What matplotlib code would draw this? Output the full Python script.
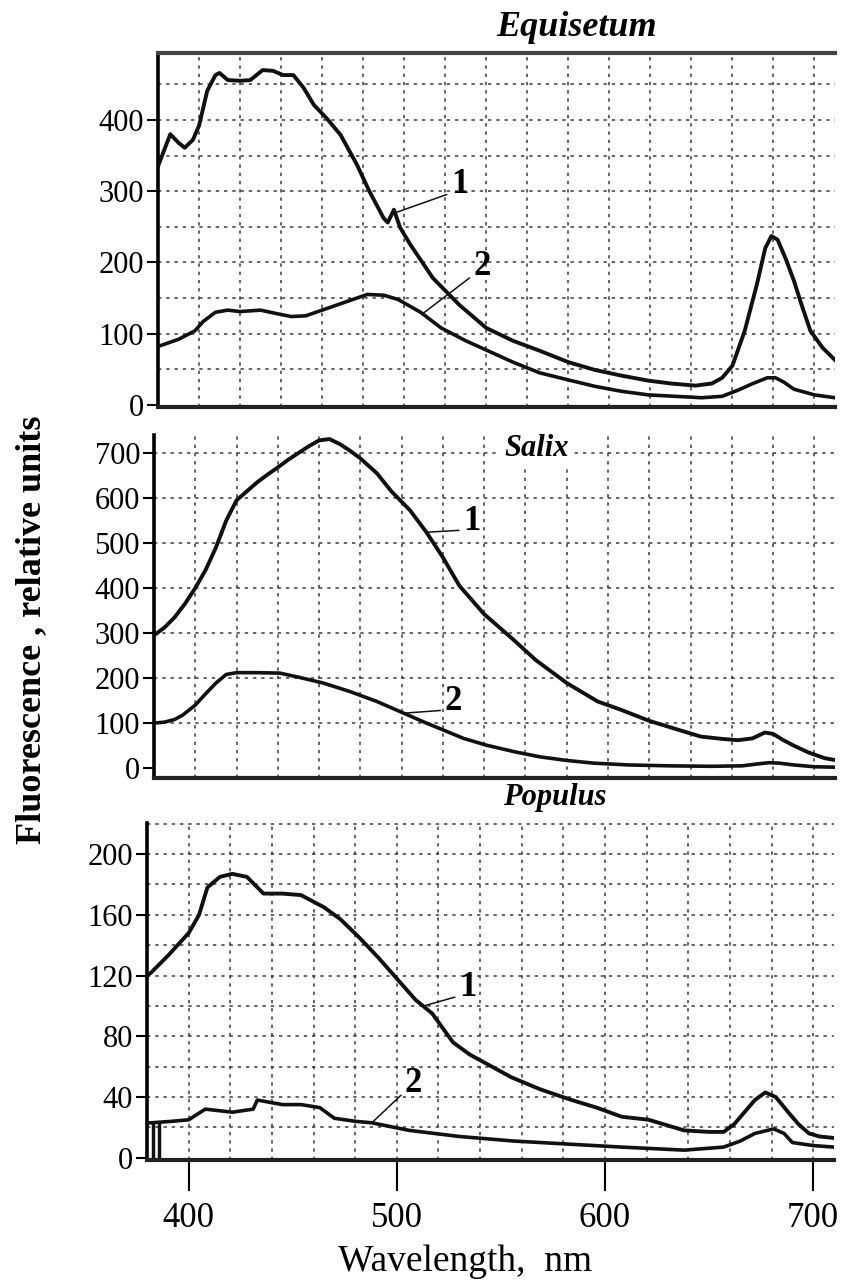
import numpy as np
import matplotlib
matplotlib.use("Agg")
import matplotlib.pyplot as plt

plt.rcParams['font.family'] = ['Liberation Serif', 'DejaVu Serif']

# --- data (wavelength nm, relative units) ---
equi_nm1 = [380, 382, 386, 390, 393, 397, 400, 404, 408, 410, 414, 420, 425, 431, 436, 441,
            446, 451, 456, 462, 469, 477, 483, 490, 492, 495, 498, 503, 514, 527, 540, 553,
            566, 580, 593, 606, 619, 630, 642, 650, 655, 660, 666, 672, 676, 679, 682, 686,
            690, 694, 698, 704, 710]
equi_val1 = [335, 350, 380, 368, 361, 372, 392, 441, 463, 466, 456, 455, 456, 470, 469, 463,
             463, 445, 421, 403, 379, 337, 300, 262, 256, 274, 249, 225, 178, 140, 108, 90,
             76, 60, 49, 41, 34, 30, 27, 30, 38, 55, 104, 170, 220, 237, 232, 205,
             174, 138, 104, 80, 63]
equi_nm2 = [380, 385, 390, 398, 402, 408, 414, 420, 430, 438, 445, 452, 461, 470, 482, 490,
            497, 508, 518, 530, 540, 553, 566, 580, 593, 606, 619, 632, 645, 655, 663, 670,
            677, 681, 685, 690, 700, 710]
equi_val2 = [82, 87, 92, 104, 117, 130, 133, 131, 133, 128, 124, 125, 134, 143, 155, 154,
             148, 130, 108, 90, 77, 60, 45, 35, 26, 19, 14, 12, 10, 12, 21, 30,
             38, 38, 32, 22, 14, 10]

salix_nm1 = [380, 385, 390, 395, 400, 405, 410, 415, 420, 425, 430, 435, 440, 445, 450, 455,
             460, 465, 470, 475, 480, 488, 495, 504, 512, 520, 528, 540, 554, 565, 580, 595,
             606, 620, 632, 645, 655, 663, 670, 676, 680, 685, 690, 697, 705, 710]
salix_val1 = [295, 312, 335, 365, 400, 440, 490, 550, 595, 615, 635, 652, 668, 685, 700, 715,
              728, 731, 720, 705, 688, 655, 615, 573, 524, 468, 405, 342, 286, 240, 189, 148,
              130, 105, 88, 70, 65, 62, 66, 79, 76, 62, 50, 35, 22, 18]
salix_nm2 = [380, 385, 390, 394, 400, 405, 410, 415, 420, 430, 441, 450, 462, 475, 488, 501,
             512, 520, 530, 541, 555, 567, 580, 593, 610, 630, 650, 665, 672, 678, 683, 690,
             700, 710]
salix_val2 = [100, 102, 108, 118, 140, 165, 189, 208, 212, 212, 211, 202, 189, 170, 148, 122,
              100, 85, 66, 51, 36, 25, 17, 11, 7, 5, 4, 5, 9, 12, 11, 7,
              3, 2]

pop_nm1 = [380, 382, 390, 400, 405, 409, 415, 421, 428, 436, 445, 454, 465, 473, 482, 491,
           500, 509, 517, 527, 535, 543, 555, 569, 584, 596, 608, 621, 638, 650, 657, 662,
           667, 672, 677, 682, 688, 693, 698, 703, 710]
pop_val1 = [120, 122, 133, 148, 160, 178, 185, 187, 185, 174, 174, 173, 165, 157, 145, 132,
            118, 104, 95, 76, 68, 62, 53, 45, 38, 33, 27, 25, 18, 17, 17, 22,
            30, 38, 43, 40, 30, 22, 16, 14, 13]
pop_nm2 = [380, 382, 392, 400, 408, 421, 431, 433, 445, 454, 463, 470, 480, 488, 506, 530,
           556, 582, 608, 638, 657, 665, 672, 681, 686, 690, 700, 710]
pop_val2 = [23, 23, 24, 25, 32, 30, 32, 38, 35, 35, 33, 26, 24, 23, 18, 14,
            11, 9, 7, 5, 7, 11, 16, 19, 16, 10, 8, 7]
pop_bars = [383, 386]

panels = [
    # name, curves, ylim, yticks, ygrid step, rect(px): left, right, top, bottom
    ("Equisetum", (equi_nm1, equi_val1, equi_nm2, equi_val2), (-3, 494), np.arange(0, 401, 100), 50,
     (158, 835, 53, 407)),
    ("Salix", (salix_nm1, salix_val1, salix_nm2, salix_val2), (-22, 740), np.arange(0, 701, 100), 100,
     (154, 835, 435, 778)),
    ("Populus", (pop_nm1, pop_val1, pop_nm2, pop_val2), (-1.5, 220.5), np.arange(0, 201, 40), 20,
     (147, 834, 823, 1160)),
]

# label '1'/'2' positions (text) and curve points they point at
notes = [
    [((494, 268), (527, 309)), ((509, 128), (538, 194))],
    [((512, 524), (534, 547)), ((501, 122), (525, 147))],
    [((513, 100), (534, 112)), ((488, 23), (508, 49))],
]

W, H = 846, 1281
fig = plt.figure(figsize=(W / 100, H / 100), dpi=100)
grid_kw = dict(color='#3a3a3a', lw=1.1, ls=(0, (2.2, 3.2)), zorder=0)

axes = []
for i, (name, (x1, y1, x2, y2), ylim, yticks, gstep, (l, r, t, b)) in enumerate(panels):
    ax = fig.add_axes([l / W, 1 - b / H, (r - l) / W, (b - t) / H])
    axes.append(ax)
    ax.set_xlim(380, 710)
    ax.set_ylim(*ylim)
    for gx in range(400, 701, 20):
        ax.axvline(gx, **grid_kw)
    for gy in np.arange(0, ylim[1] + 0.01, gstep)[1:]:
        ax.axhline(gy, **grid_kw)
    ax.plot(x1, y1, color='#111111', lw=2.8, solid_joinstyle='round', zorder=3)
    ax.plot(x2, y2, color='#111111', lw=2.6, solid_joinstyle='round', zorder=3)

    ax.set_yticks(yticks)
    ax.set_yticklabels([str(v) for v in yticks])
    ax.tick_params(axis='y', direction='out', length=8, width=1.5, labelsize=22, pad=2)
    for s in ['right', 'top']:
        ax.spines[s].set_visible(False)
    ax.spines['left'].set_linewidth(2.6)
    ax.spines['bottom'].set_linewidth(3.0)
    ax.spines['bottom'].set_color('#222222')

    for (xy, xt), lab in zip(notes[i], ['1', '2']):
        ax.annotate(lab, xy=xy, xytext=xt, ha='center', va='center', fontsize=25,
                    fontweight='bold', zorder=5,
                    arrowprops=dict(arrowstyle='-', lw=1.1, color='#111111',
                                    shrinkA=1, shrinkB=0, relpos=(0.0, 0.25)))

    if i < 2:
        ax.set_xticks([])
    else:
        ax.set_xticks([400, 500, 600, 700])
        ax.tick_params(axis='x', direction='out', length=22, width=1.5, labelsize=25, pad=8)
        ax.vlines(pop_bars, 0, pop_val2[0], color='#111111', lw=2.5, zorder=3)

axes[0].spines['top'].set_visible(True)
axes[0].spines['top'].set_linewidth(3.0)
axes[0].spines['top'].set_color('#444444')

fig.text(577 / W, 1 - 28 / H, "Equisetum", ha='center', va='center', fontsize=26,
         fontweight='bold', style='italic')
fig.text(537 / W, 1 - 449 / H, "Salix", ha='center', va='center', fontsize=22,
         fontweight='bold', style='italic', zorder=10,
         bbox=dict(facecolor='white', edgecolor='none', pad=3))
fig.text(555 / W, 1 - 797 / H, "Populus", ha='center', va='center', fontsize=22,
         fontweight='bold', style='italic')

fig.text(32 / W, 1 - 630 / H, "Fluorescence , relative units", rotation=90, ha='center',
         va='center', fontsize=26, fontweight='bold')
fig.text(465 / W, 1 - 1262 / H, "Wavelength,  nm", ha='center', va='center', fontsize=27)

fig.savefig("out.png", dpi=100, facecolor='white')
